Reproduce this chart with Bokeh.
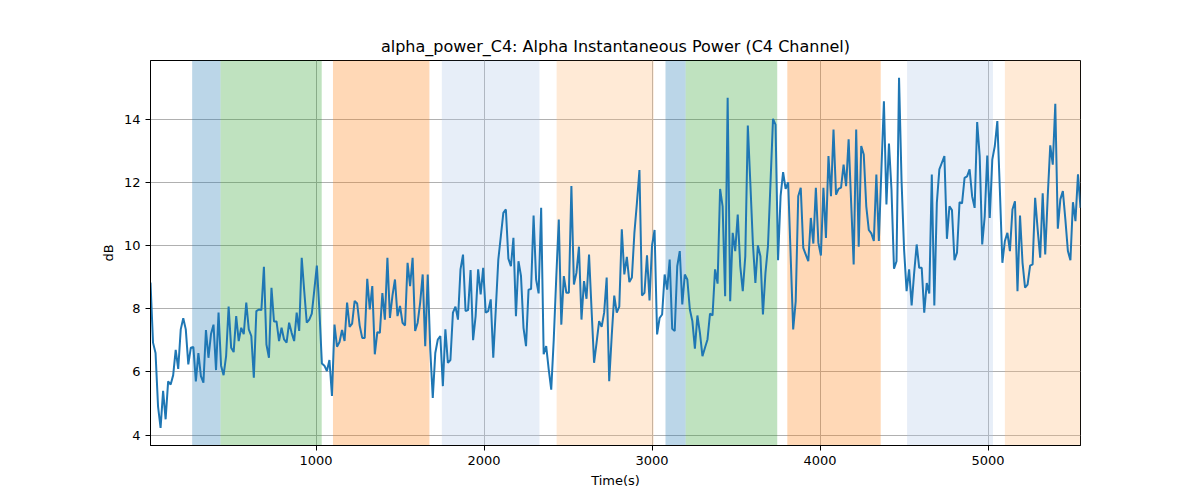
from bokeh.plotting import figure
from bokeh.models import BoxAnnotation, Range1d, FixedTicker
from bokeh.embed import file_html
from bokeh.resources import INLINE

# alpha power in dB, one sample every 15 s
power_db = [
    8.83, 6.93, 6.6, 4.9, 4.23, 5.4, 4.5, 5.7, 5.6, 5.9, 6.7, 6.1, 7.35, 7.7, 7.35, 6.24, 6.77, 6.79, 5.7, 6.6,
    5.87, 5.66, 7.33, 6.45, 7.2, 7.5, 6.06, 7.88, 6.2, 5.9, 6.5, 8.07, 6.77, 6.63, 7.77, 6.98, 7.4, 7.2, 8.2, 7.35,
    7.14, 5.82, 7.93, 7.98, 7.96, 9.33, 6.87, 6.45, 8.67, 7.6, 7.6, 6.98, 7.4, 7.03,
    6.93, 7.56, 7.24, 6.98, 7.88, 7.3, 9.62, 8.56, 7.56, 7.66, 7.85, 8.6, 9.37, 7.98, 6.27, 6.2, 6.03, 6.38, 5.24, 7.5,
    6.8, 6.95, 7.33, 6.98, 8.2, 7.43, 7.53, 8.25, 8.17, 7.47, 7.08, 7.08, 8.95, 7.98, 8.72, 6.56, 7.26, 7.24, 8.5, 7.66,
    9.62, 7.71, 8.42, 8.93, 7.77, 8.09, 7.56, 7.47, 9.46, 8.72, 9.62, 7.3, 7.56, 8.2,
    9.09, 6.82, 9.09, 6.71, 5.18, 6.6, 7.03, 7.14, 5.55, 7.35, 6.29, 6.38, 7.88, 8.07, 7.66, 9.25, 9.72, 7.93, 7.96, 9.23,
    7.01, 7.77, 9.25, 8.46, 9.3, 7.88, 7.93, 8.3, 6.45, 7.98, 9.56, 10.3, 11.04, 11.15, 9.59, 9.35, 10.25, 7.77, 9.51, 9.04,
    7.4, 6.82, 8.61, 8.63, 10.96, 8.93, 8.49, 11.2, 6.56, 6.82, 6.08, 5.44, 7.03, 9.0,
    10.83, 7.5, 9.04, 8.51, 8.51, 11.89, 8.77, 9.14, 9.97, 7.66, 8.88, 8.32, 9.72, 7.98, 6.29, 6.93, 7.61, 7.43, 7.88, 8.99,
    5.71, 7.14, 8.42, 7.88, 8.07, 10.52, 9.09, 9.65, 8.85, 8.99, 10.41, 11.36, 12.4, 8.42, 8.51, 9.7, 8.27, 10.01, 10.5, 7.19,
    7.71, 7.82, 9.09, 8.61, 9.56, 7.37, 7.3, 9.35, 9.83, 8.14, 9.09, 8.93, 7.98, 7.61,
    6.74, 7.79, 7.24, 6.5, 6.77, 7.03, 7.85, 7.79, 9.25, 8.8, 11.8, 11.25, 8.4, 14.69, 8.24, 10.41, 9.83, 10.99, 9.35, 8.56,
    9.67, 13.81, 11.99, 10.09, 8.82, 10.01, 9.67, 7.82, 9.14, 9.99, 11.99, 14.02, 13.84, 9.54, 11.57, 12.33, 11.8, 12.01, 9.67, 7.35,
    8.24, 11.57, 11.84, 9.93, 9.72, 9.51, 10.88, 10.07, 11.84, 10.09, 9.69,
    11.84, 10.25, 12.84, 11.57, 13.68, 11.62, 11.8, 11.84, 12.57, 11.89, 13.37, 11.36, 9.41, 13.68, 9.97, 13.16, 12.89, 11.25, 10.5, 10.39,
    10.15, 12.26, 10.15, 12.4, 14.58, 11.31, 13.24, 11.78, 9.27, 9.51, 15.32, 12.05, 9.88, 8.56, 9.25, 8.11, 9.14, 10.04, 9.3, 9.3,
    7.88, 8.82, 8.49, 12.26, 8.11, 11.36, 12.42, 12.63, 12.84, 10.22, 11.25, 11.13, 9.54, 9.78, 11.38,
    11.34, 12.15, 12.2, 12.42, 11.57, 11.2, 13.92, 12.84, 10.04, 10.94, 12.86, 10.88, 12.73, 13.16, 13.95, 11.78, 9.46, 10.15, 10.41, 9.83,
    11.15, 11.41, 8.56, 10.96, 9.46, 8.67, 8.77, 9.37, 9.41, 11.52, 10.52, 9.62, 11.66, 9.72, 11.57, 13.18, 12.57, 14.5, 10.54, 11.47,
    11.73, 10.83, 9.83, 9.54, 11.38, 10.78, 12.26, 11.2,
]
t_start = 15
t_step = 15
times = [t_start + t_step * i for i in range(len(power_db))]

# shaded segments (start, end, colour)
band_start = [263, 432, 1101, 1749, 2432, 3080, 3200, 3805, 4518, 5100]
band_end = [432, 1034, 1675, 2330, 3010, 3200, 3745, 4361, 5029, 5550]
band_color = ["#1f77b4", "#2ca02c", "#ff7f0e", "#aec7e8", "#ffbb78",
              "#1f77b4", "#2ca02c", "#ff7f0e", "#aec7e8", "#ffbb78"]

x_ticks = [1000, 2000, 3000, 4000, 5000]
y_ticks = [4, 6, 8, 10, 12, 14]

p = figure(width=1195, height=495, output_backend="svg", toolbar_location=None,
           x_range=Range1d(times[0], times[-1]), y_range=Range1d(3.67, 15.87),
           title="alpha_power_C4: Alpha Instantaneous Power (C4 Channel)",
           x_axis_label="Time(s)", y_axis_label="dB",
           min_border_left=150, min_border_right=115, min_border_top=60, min_border_bottom=50)

for s, e, c in zip(band_start, band_end, band_color):
    p.add_layout(BoxAnnotation(left=s, right=e, fill_color=c, fill_alpha=0.3,
                               line_color=None, level="underlay"))

p.line(times, power_db, line_color="#1f77b4", line_width=2)

p.title.align = "center"
p.title.text_font = "DejaVu Sans"
p.title.text_font_size = "16px"
p.title.text_font_style = "normal"
p.title.text_color = "black"

p.xaxis.ticker = FixedTicker(ticks=x_ticks)
p.yaxis.ticker = FixedTicker(ticks=y_ticks)
for ax in (p.xaxis, p.yaxis):
    ax.major_label_text_font = "DejaVu Sans"
    ax.major_label_text_font_size = "13px"
    ax.major_label_text_color = "black"
    ax.axis_label_text_font = "DejaVu Sans"
    ax.axis_label_text_font_size = "13px"
    ax.axis_label_text_font_style = "normal"
    ax.axis_label_text_color = "black"
    ax.minor_tick_line_color = None
    ax.major_tick_in = 0
    ax.major_tick_out = 5
    ax.major_tick_line_color = "black"
    ax.axis_line_color = "black"

p.grid.grid_line_color = "#b0b0b0"
p.grid.grid_line_width = 1
p.outline_line_color = "black"
p.outline_line_alpha = 1
p.background_fill_color = "white"
p.border_fill_color = "white"

open("out.html", "w").write(file_html(p, INLINE))
